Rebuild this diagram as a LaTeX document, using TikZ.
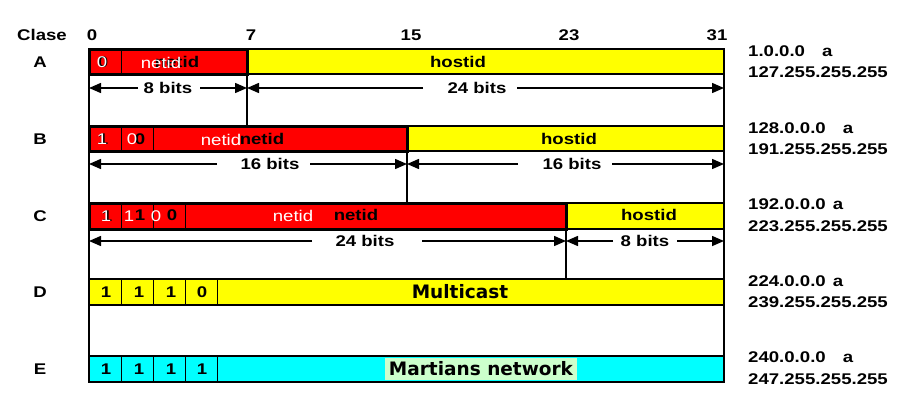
\documentclass[tikz,border=0pt]{standalone}
\usepackage{fontspec}
\setmainfont{Liberation Sans}[FakeStretch=1.2]
\newfontfamily\djv{DejaVu Sans}
\usetikzlibrary{arrows.meta}
\definecolor{cyn}{RGB}{0,255,255}
\definecolor{ylw}{RGB}{255,255,0}
\definecolor{rd}{RGB}{255,0,0}
\definecolor{lgreen}{RGB}{204,255,204}
\begin{document}
\begin{tikzpicture}[x=1pt,y=-1pt,
  lbl/.style={font=\bfseries\fontsize{15.5}{15.5}\selectfont, inner sep=0pt},
  wlbl/.style={font=\fontsize{15.5}{15.5}\selectfont, text=white, inner sep=0pt},
  rng/.style={font=\bfseries\fontsize{15.5}{15.5}\selectfont, inner sep=0pt, anchor=west},
  big/.style={font=\djv\bfseries\fontsize{18.5}{18.5}\selectfont, inner sep=0pt},
  redf/.style={fill=rd, draw=black, line width=3pt},
  ylwf/.style={fill=ylw, draw=black, line width=1.5pt},
  cyf/.style={fill=cyn, draw=black, line width=1.8pt},
  cell/.style={draw=black, line width=0.9pt},
  vline/.style={draw=black, line width=1.5pt},
  tip/.style={-{Triangle[length=12pt,width=10pt]}, line width=1.5pt},
]
\useasboundingbox (0,0) rectangle (913,418);
% vertical guide lines
\draw[vline] (89,74) -- (89,356);
\draw[vline] (724,74) -- (724,356);
\draw[vline] (247,74) -- (247,126);
\draw[vline] (407,151) -- (407,203);
\draw[vline] (566,229) -- (566,279);
% row A
\draw[ylwf] (247,49) rectangle (724,74);
\draw[redf] (89,49) rectangle (247,74);
\draw[cell] (121,49) -- (121,74);
% row B
\draw[ylwf] (407,126) rectangle (724,151);
\draw[redf] (89,126) rectangle (407,151);
\draw[cell] (121,126) -- (121,151);
\draw[cell] (153,126) -- (153,151);
% row C
\draw[ylwf] (566,203) rectangle (724,229);
\draw[redf] (89,203) rectangle (566,229);
\foreach \x in {121,153,185} \draw[cell] (\x,203) -- (\x,229);
% row D
\draw[ylwf, line width=2pt] (89,279) rectangle (724,305);
\foreach \x in {121,153,185,217} \draw[cell] (\x,279) -- (\x,305);
% row E
\draw[cyf] (89,356) rectangle (724,382);
\foreach \x in {121,153,185,217} \draw[cell] (\x,356) -- (\x,382);

% headers
\node[lbl] (hClase) at (42,35) {Clase};
\node[lbl] (h0) at (92,35) {0};
\node[lbl] (h7) at (251,35) {7};
\node[lbl] (h15) at (411,35) {15};
\node[lbl] (h23) at (569,35) {23};
\node[lbl] (h31) at (717,35) {31};
% row labels
\node[lbl] (lA) at (40,62) {A};
\node[lbl] (lB) at (40,139) {B};
\node[lbl] (lC) at (40,216) {C};
\node[lbl] (lD) at (40,292) {D};
\node[lbl] (lE) at (40,369) {E};

% row A texts
\node[lbl] (a0b) at (103,62) {0};
\node[wlbl] (a0w) at (102,62) {0};
\node[lbl] (anb) at (177,62) {netid};
\node[wlbl] (anw) at (161,63) {netid};
\node[lbl] (ah) at (458,62) {hostid};
% row B texts
\node[lbl] (b1b) at (103,139) {1};
\node[wlbl] (b1w) at (102,139) {1};
\node[lbl] (b0b) at (140,139) {0};
\node[wlbl] (b0w) at (132,139) {0};
\node[lbl] (bnb) at (262,139) {netid};
\node[wlbl] (bnw) at (221,140) {netid};
\node[lbl] (bh) at (569,139) {hostid};
% row C texts
\node[lbl] (c1b) at (107,216) {1};
\node[wlbl] (c1w) at (106,216) {1};
\node[lbl] (c2b) at (140,215) {1};
\node[wlbl] (c2w) at (129,216) {1};
\node[lbl] (c0b) at (172,215) {0};
\node[wlbl] (c0w) at (156,216) {0};
\node[lbl] (cnb) at (356,215) {netid};
\node[wlbl] (cnw) at (293,216) {netid};
\node[lbl] (ch) at (649,215) {hostid};
% row D texts
\node[lbl] (d1) at (106,292) {1};
\node[lbl] (d2) at (139,292) {1};
\node[lbl] (d3) at (171,292) {1};
\node[lbl] (d4) at (202,292) {0};
\node[big] (dm) at (460,292) {Multicast};
% row E texts
\node[lbl] (e1) at (106,369) {1};
\node[lbl] (e2) at (139,369) {1};
\node[lbl] (e3) at (171,369) {1};
\node[lbl] (e4) at (202,369) {1};
\node[big, fill=lgreen, minimum width=192pt, minimum height=22pt] (em) at (481,369) {Martians network};

% bit-width dimensions
\node[lbl] (a8) at (168,88) {8 bits};
\coordinate (a8L) at (138,88); \coordinate (a8R) at (200,88);
\coordinate (a8l) at (89,88); \coordinate (a8r) at (247,88);
\draw[tip] (a8L) -- (a8l); \draw[tip] (a8R) -- (a8r);
\node[lbl] (a24) at (477,88) {24 bits};
\coordinate (a24L) at (423,88); \coordinate (a24R) at (517,88);
\coordinate (a24l) at (247,88); \coordinate (a24r) at (724,88);
\draw[tip] (a24L) -- (a24l); \draw[tip] (a24R) -- (a24r);

\node[lbl] (b16) at (270,164) {16 bits};
\coordinate (b16L) at (217,164); \coordinate (b16R) at (310,164);
\coordinate (b16l) at (89,164); \coordinate (b16r) at (407,164);
\draw[tip] (b16L) -- (b16l); \draw[tip] (b16R) -- (b16r);
\node[lbl] (b16h) at (572,164) {16 bits};
\coordinate (b16hL) at (518,164); \coordinate (b16hR) at (612,164);
\coordinate (b16hl) at (407,164); \coordinate (b16hr) at (724,164);
\draw[tip] (b16hL) -- (b16hl); \draw[tip] (b16hR) -- (b16hr);

\node[lbl] (c24) at (365,241) {24 bits};
\coordinate (c24L) at (312,241); \coordinate (c24R) at (422,241);
\coordinate (c24l) at (89,241); \coordinate (c24r) at (566,241);
\draw[tip] (c24L) -- (c24l); \draw[tip] (c24R) -- (c24r);
\node[lbl] (c8) at (645,241) {8 bits};
\coordinate (c8L) at (613,241); \coordinate (c8R) at (677,241);
\coordinate (c8l) at (566,241); \coordinate (c8r) at (724,241);
\draw[tip] (c8L) -- (c8l); \draw[tip] (c8R) -- (c8r);

% address ranges
\node[rng] (rA1) at (748,51) {1.0.0.0\hspace{17pt}a};
\node[rng] (rA2) at (748,72) {127.255.255.255};
\node[rng] (rB1) at (748,128) {128.0.0.0\hspace{17pt}a};
\node[rng] (rB2) at (748,149) {191.255.255.255};
\node[rng] (rC1) at (748,204) {192.0.0.0\hspace{7pt}a};
\node[rng] (rC2) at (748,226) {223.255.255.255};
\node[rng] (rD1) at (748,281) {224.0.0.0\hspace{7pt}a};
\node[rng] (rD2) at (748,302) {239.255.255.255};
\node[rng] (rE1) at (748,357) {240.0.0.0\hspace{17pt}a};
\node[rng] (rE2) at (748,379) {247.255.255.255};
\end{tikzpicture}
\end{document}
